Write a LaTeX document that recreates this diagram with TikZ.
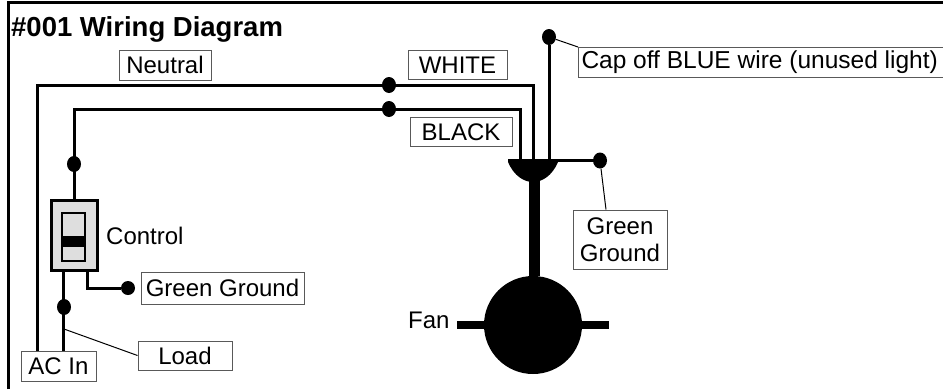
\documentclass[tikz,border=0pt]{standalone}
\usepackage{fontspec}
\setmainfont{Liberation Sans}
\tikzset{
  lbl/.style={draw=black!65,line width=1pt,fill=white,inner sep=0pt,align=center,font=\fontsize{24}{27}\selectfont,text=black},
  plain/.style={inner sep=0pt,font=\fontsize{24}{27}\selectfont,text=black},
  wire/.style={line width=3pt,black},
  thin wire/.style={line width=1pt,black},
  dot/.style={ellipse,fill=black,inner sep=0pt,minimum width=14pt,minimum height=16pt},
}
\usetikzlibrary{shapes.geometric}
\begin{document}
\begin{tikzpicture}[x=1pt,y=-1pt]
\useasboundingbox (0,0) rectangle (943,389);
\fill[white] (0,0) rectangle (943,389);
\draw[line width=3pt] (8,389) |- (943,2);
% labels
\node[plain,anchor=base west] (title) at (11,36) {\bfseries\fontsize{27.5}{30}\selectfont \#001 Wiring Diagram};
\node[lbl,minimum width=92pt,minimum height=30pt] (neutral) at (165,65) {Neutral};
\node[lbl,minimum width=99pt,minimum height=29pt] (white) at (457.5,65) {WHITE};
\node[lbl,minimum width=102pt,minimum height=29pt] (black) at (461,132) {BLACK};
\node[lbl,anchor=west,text width=364pt,inner xsep=3pt,align=flush left,minimum height=29.5pt,font=\fontsize{24.5}{27}\selectfont] (cap) at (578,62.25) {Cap off BLUE wire (unused light)};
\node[lbl,minimum width=94pt,minimum height=59pt] (gg) at (620,239.5) {Green\\Ground};
\node[lbl,minimum width=163pt,minimum height=32pt] (gg2) at (222.5,288) {Green Ground};
\node[lbl,minimum width=94pt,minimum height=29pt] (load) at (185,355.5) {Load};
\node[lbl,minimum width=75pt,minimum height=30pt] (acin) at (58.5,366) {AC In};
\node[plain,anchor=base west] (control) at (106,244) {Control};
\node[plain,anchor=base west] (fan) at (408,328) {Fan};
% switch
\node[draw,line width=3pt,fill=black!13,minimum width=46pt,minimum height=70pt,inner sep=0pt] (sw) at (74.5,235.5) {};
\node[draw,line width=2.5pt,fill=black!13,minimum width=23pt,minimum height=48pt,inner sep=0pt] (swin) at (73.5,237) {};
\node[fill=black,minimum width=23pt,minimum height=11pt,inner sep=0pt] (swbar) at (73.5,241) {};
% junction dots
\node[dot] (d1) at (74,164) {};
\node[dot] (d2) at (389,85) {};
\node[dot] (d3) at (389,109) {};
\node[dot] (d4) at (549,37) {};
\node[dot] (d5) at (600,160.5) {};
\node[dot,minimum height=14pt] (d6) at (128,288) {};
\node[dot] (d7) at (64,307) {};
% fan
\node[circle,fill=black,minimum size=98pt,inner sep=0pt] (fanb) at (533,325) {};
\coordinate (canL) at (508,159);
\coordinate (canR) at (558,159);
\coordinate (canB) at (534.5,181);
\fill (canL) -- (canR) -- (558,162) .. controls (552,176) and (542,182) .. (533,182) .. controls (524,182) and (514,176) .. (508,162) -- cycle;
\draw[line width=11pt] (canB) -- (fanb.north -| canB);
\draw[line width=8pt] (457,325) -- (609,325);
% wires
\coordinate (acn) at (37,351);
\coordinate (acl) at (63.5,351);
\coordinate (whiteend) at (533,160);
\coordinate (blackend) at (520,160);
\coordinate (capend) at (549,160);
\coordinate (cang) at (556,160.5);
\coordinate (swg) at (87.5,272);
\coordinate (swl) at (63.5,272);
\coordinate (tap) at (64,329);
\draw[wire] (acn) |- (whiteend |- d2.center) -- (whiteend);
\draw[wire] (sw.north -| d1) |- (blackend |- d3.center) -- (blackend);
\draw[wire] (d4) -- (capend);
\draw[wire] (cang) -- (d5);
\draw[wire] (acl) -- (swl);
\draw[wire] (swg) |- (d6);
\draw[thin wire] (d4) -- (cap.north west);
\draw[thin wire] (d5) -- (gg.north -| 606,0);
\draw[thin wire] (tap) -- (load.west);
\end{tikzpicture}
\end{document}
